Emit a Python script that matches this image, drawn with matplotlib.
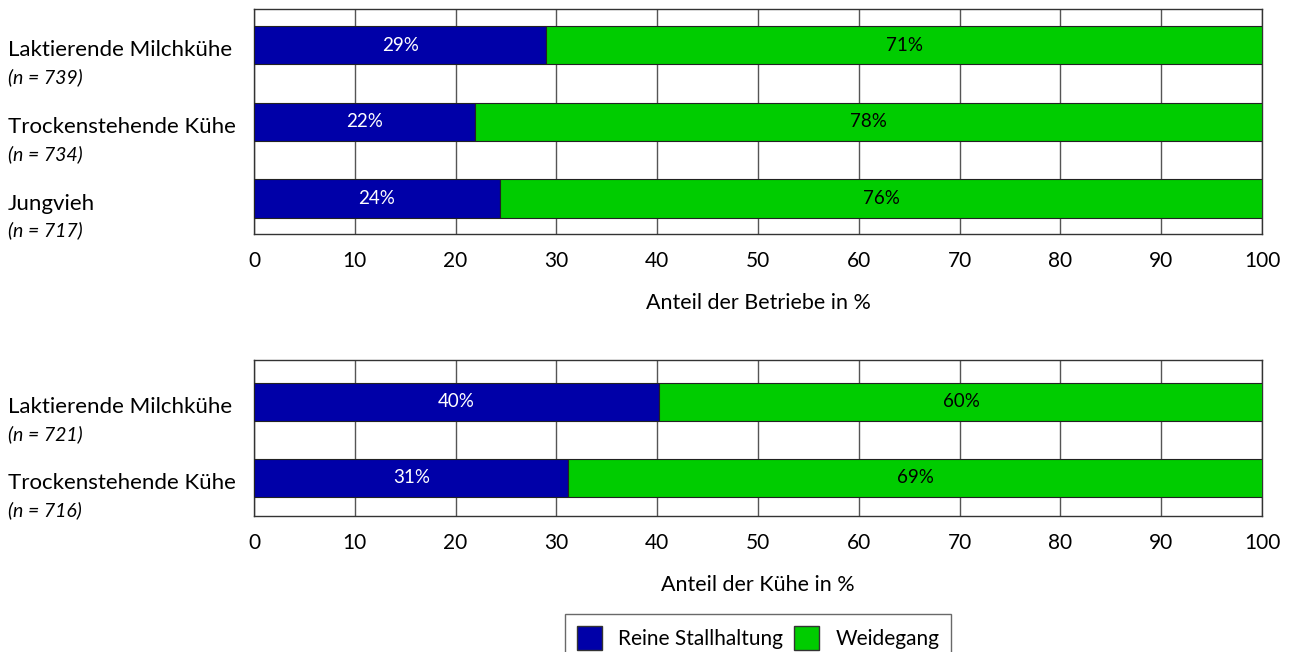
import matplotlib.pyplot as plt
import matplotlib.transforms as mtransforms
from matplotlib.patches import Patch

# data
betriebe_cats = ["Laktierende Milchkühe", "Trockenstehende Kühe", "Jungvieh"]
betriebe_n = [739, 734, 717]
betriebe_stall = [29.0, 21.9, 24.4]
betriebe_weide = [71.0, 78.1, 75.6]
betriebe_stall_lbl = ["29%", "22%", "24%"]
betriebe_weide_lbl = ["71%", "78%", "76%"]

kuehe_cats = ["Laktierende Milchkühe", "Trockenstehende Kühe"]
kuehe_n = [721, 716]
kuehe_stall = [40.2, 31.2]
kuehe_weide = [59.9, 68.9]
kuehe_stall_lbl = ["40%", "31%"]
kuehe_weide_lbl = ["60%", "69%"]

xticks = list(range(0, 101, 10))

plt.rcParams["font.family"] = ["Lato", "DejaVu Sans"]

BLUE = "#0000a8"
GREEN = "#00cc00"
W, H = 1289, 652

fig = plt.figure(figsize=(W / 100, H / 100), dpi=100)


def px_axes(left, top, right, bottom):
    return fig.add_axes([left / W, 1 - bottom / H, (right - left) / W, (bottom - top) / H])


def draw_panel(ax, cats, ns, stall, weide, stall_lbl, weide_lbl, xlabel, ylim):
    y = list(range(len(cats)))
    ax.barh(y, stall, height=0.5, color=BLUE, edgecolor="#222222", linewidth=0.8, zorder=3)
    ax.barh(y, weide, left=stall, height=0.5, color=GREEN, edgecolor="#222222",
            linewidth=0.8, zorder=3)
    for i in y:
        ax.text(stall[i] / 2, i, stall_lbl[i], color="white", ha="center", va="center",
                fontsize=13.5, zorder=4)
        ax.text(stall[i] + weide[i] / 2, i, weide_lbl[i], color="black", ha="center",
                va="center", fontsize=13.5, zorder=4)
    ax.set_xlim(0, 100)
    ax.set_ylim(*ylim)
    ax.set_xticks(xticks)
    ax.set_yticks([])
    ax.tick_params(axis="x", length=0, pad=12, labelsize=15)
    ax.grid(axis="x", color="#555555", linewidth=1, zorder=0)
    for s in ax.spines.values():
        s.set_color("#333333")
        s.set_linewidth(1)
    ax.set_xlabel(xlabel, fontsize=15.5, labelpad=16)
    tr = mtransforms.blended_transform_factory(fig.transFigure, ax.transData)
    for i, (c, n) in enumerate(zip(cats, ns)):
        ax.annotate(c, xy=(8 / W, i), xycoords=tr, xytext=(0, -3.5), textcoords="offset points",
                    ha="left", va="center", fontsize=16)
        ax.annotate(f"(n = {n})", xy=(8 / W, i), xycoords=tr, xytext=(0, -23),
                    textcoords="offset points", ha="left", va="center", fontsize=14,
                    style="italic")


ax1 = px_axes(254, 9, 1262, 234)
draw_panel(ax1, betriebe_cats, betriebe_n, betriebe_stall, betriebe_weide,
           betriebe_stall_lbl, betriebe_weide_lbl, "Anteil der Betriebe in %", (2.46, -0.47))

ax2 = px_axes(254, 360, 1262, 516)
draw_panel(ax2, kuehe_cats, kuehe_n, kuehe_stall, kuehe_weide,
           kuehe_stall_lbl, kuehe_weide_lbl, "Anteil der Kühe in %", (1.5, -0.55))

handles = [Patch(facecolor=BLUE, edgecolor="#333333"), Patch(facecolor=GREEN, edgecolor="#333333")]
leg = fig.legend(handles=handles, labels=["Reine Stallhaltung", "Weidegang"], ncol=2,
                 loc="upper center", bbox_to_anchor=(758 / W, 1 - 604 / H), fontsize=15,
                 frameon=True, fancybox=False, edgecolor="#444444", handlelength=1.2,
                 handleheight=1.4, columnspacing=0.5, handletextpad=0.8,
                 borderpad=0.55)
leg.get_frame().set_linewidth(1)

fig.savefig("out.png", dpi=100)
